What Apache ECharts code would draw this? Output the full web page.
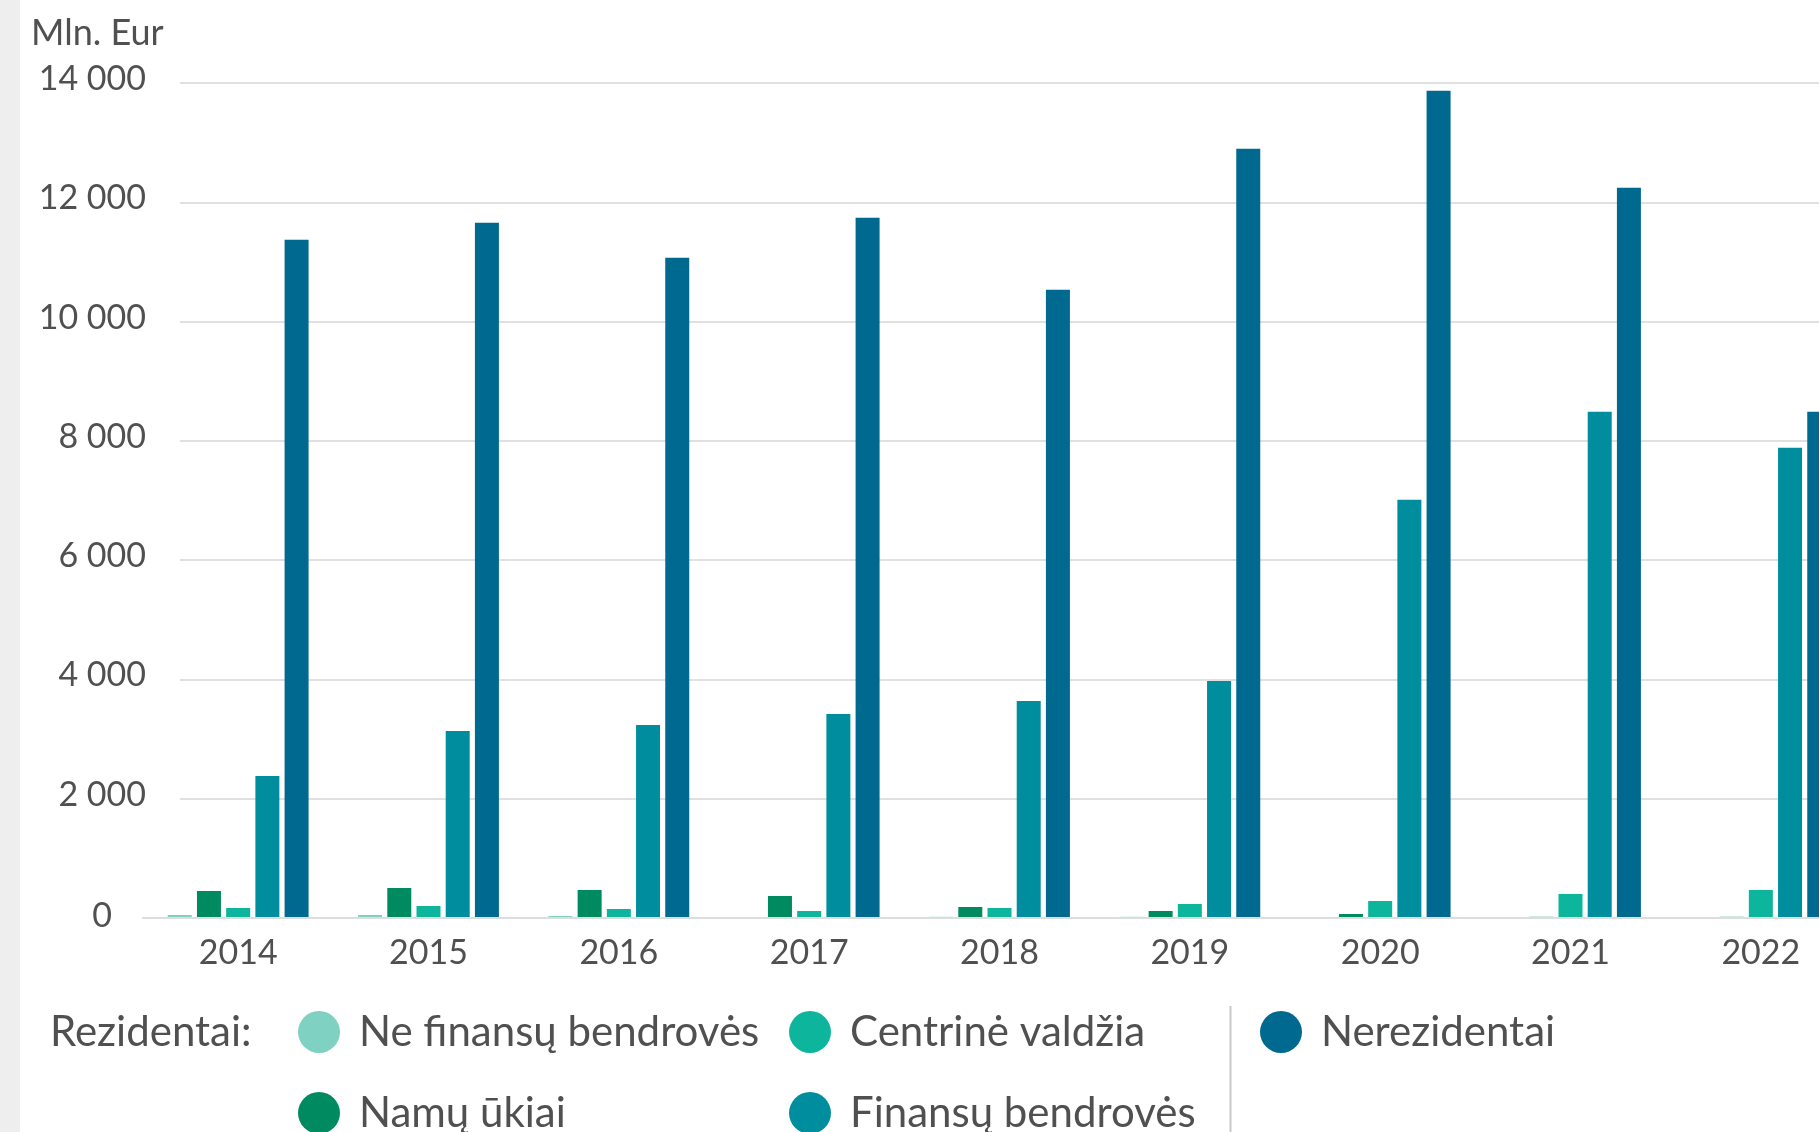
<!DOCTYPE html>
<html>
<head>
<meta charset="utf-8">
<script src="https://cdn.jsdelivr.net/npm/echarts@6/dist/echarts.min.js"></script>
<style>
    html, body { margin: 0; padding: 0; background: #fff; overflow: hidden; }
    #mainChart { width: 1900px; height: 1220px; }
</style>
</head>
<body>
<div id="mainChart"></div>
<script>
var years = ["2014", "2015", "2016", "2017", "2018", "2019", "2020", "2021", "2022"];
var neFinansu = [50, 50, 34, 17, 20, 20, 10, 5, 5];
var namuUkiai = [453, 503, 470, 369, 184, 117, 67, 20, 20];
var centrineValdzia = [168, 201, 151, 117, 168, 235, 285, 403, 470];
var finansuBendroves = [2382, 3137, 3237, 3422, 3640, 3975, 7012, 8488, 7884];
var nerezidentai = [11373, 11658, 11071, 11742, 10534, 12899, 13872, 12245, 8488];
var yTicks = { min: 0, max: 14000, interval: 2000 };

var seriesNames = ["Ne finansų bendrovės", "Namų ūkiai", "Centrinė valdžia", "Finansų bendrovės", "Nerezidentai"];
var seriesColors = ["#7fd1c1", "#008a60", "#0cb59c", "#008e9f", "#00698f"];
var seriesData = [neFinansu, namuUkiai, centrineValdzia, finansuBendroves, nerezidentai];

var fontName = "Lato, 'Open Sans', sans-serif";
var textColor = "#505050";

function mainChartShow() {
    var n = echarts.init(document.getElementById("mainChart"));
    var series = [];
    for (var i = 0; i < seriesNames.length; i++) {
        series.push({
            name: seriesNames[i],
            type: "bar",
            xAxisIndex: 0,
            yAxisIndex: 0,
            barWidth: 24,
            barGap: "21.7%",
            itemStyle: { color: seriesColors[i] },
            data: seriesData[i]
        });
    }
    // chart is taller/wider than the window on purpose, the picture is cut at 1819x1132
    var legendText = { color: textColor, fontSize: 42, fontFamily: fontName, lineHeight: 42, padding: [0, 0, 0, 14] };
    n.setOption({
        animation: false,
        backgroundColor: "#fff",
        color: seriesColors,
        grid: [
            { left: 143, right: 44, top: 83, bottom: 302 },   // bars
            { left: 180, right: 0, top: 83, bottom: 302 }     // gridlines + y labels
        ],
        xAxis: [
            {
                type: "category", gridIndex: 0, data: years, z: 3,
                axisTick: { show: false },
                axisLine: { lineStyle: { color: "#dddddd", width: 2 } },
                axisLabel: { color: textColor, fontSize: 34, fontFamily: fontName, margin: 18 }
            },
            { type: "value", gridIndex: 1, show: false, min: 0, max: 1 }
        ],
        yAxis: [
            {
                type: "value", gridIndex: 0, min: yTicks.min, max: yTicks.max, interval: yTicks.interval,
                axisLine: { show: false }, axisTick: { show: false }, axisLabel: { show: false },
                splitLine: { show: false }
            },
            {
                type: "value", gridIndex: 1, min: yTicks.min, max: yTicks.max, interval: yTicks.interval,
                axisLine: { show: false }, axisTick: { show: false },
                axisLabel: {
                    color: textColor, fontSize: 34, fontFamily: fontName, margin: 34,
                    formatter: function (v) {
                        if (v === 0) return "{z|0}";
                        return "{n|" + String(v).replace(/\B(?=(\d{3})+(?!\d))/g, " ") + "}";
                    },
                    rich: {
                        n: { color: textColor, fontSize: 34, fontFamily: fontName, padding: [0, 0, 8, 0] },
                        z: { color: textColor, fontSize: 34, fontFamily: fontName, padding: [0, 34, 4, 0] }
                    }
                },
                splitLine: { lineStyle: { color: "#e0e0e0", width: 2 } }
            }
        ],
        legend: [
            { orient: "vertical", left: 298, top: 1011, height: 180, itemWidth: 42, itemHeight: 42, itemGap: 39, icon: "circle",
              selectedMode: false, padding: 0, textStyle: legendText, data: [seriesNames[0], seriesNames[1]] },
            { orient: "vertical", left: 789, top: 1011, height: 180, itemWidth: 42, itemHeight: 42, itemGap: 39, icon: "circle",
              selectedMode: false, padding: 0, textStyle: legendText, data: [seriesNames[2], seriesNames[3]] },
            { orient: "vertical", left: 1260, top: 1011, height: 180, itemWidth: 42, itemHeight: 42, itemGap: 39, icon: "circle",
              selectedMode: false, padding: 0, textStyle: legendText, data: [seriesNames[4]] }
        ],
        graphic: [
            { type: "rect", left: 0, top: 0, shape: { width: 20, height: 1220 }, style: { fill: "#eeeeee" } },
            { type: "text", left: 31, top: 15, style: { text: "Mln. Eur", fill: textColor, fontSize: 36, fontFamily: fontName } },
            { type: "text", left: 50, top: 1011, style: { text: "Rezidentai:", fill: textColor, fontSize: 42, fontFamily: fontName, lineHeight: 42 } },
            { type: "line", shape: { x1: 1230.5, y1: 1006, x2: 1230.5, y2: 1220 }, style: { stroke: "#c8c8c8", lineWidth: 2 } }
        ],
        series: series
    });
}

mainChartShow();
</script>
</body>
</html>
